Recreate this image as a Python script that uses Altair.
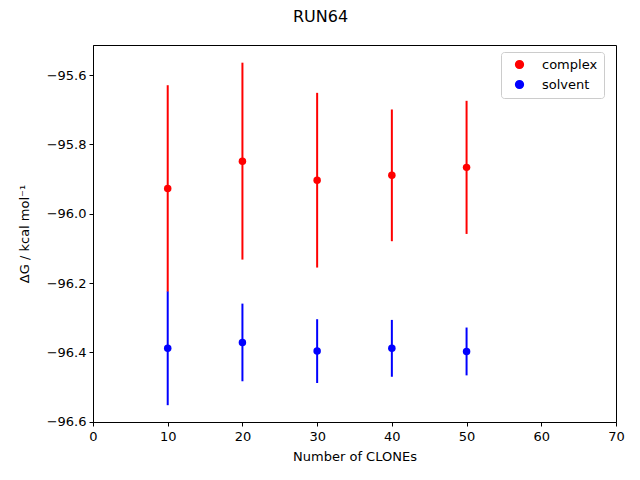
import altair as alt
import pandas as pd

clones = [10, 20, 30, 40, 50]
complex_dg = [-95.927, -95.848, -95.903, -95.889, -95.866]
complex_err = [0.298, 0.284, 0.252, 0.190, 0.192]
solvent_dg = [-96.388, -96.371, -96.396, -96.388, -96.397]
solvent_err = [0.164, 0.112, 0.092, 0.082, 0.069]

rows = []
for name, vals, errs in [("complex", complex_dg, complex_err), ("solvent", solvent_dg, solvent_err)]:
    for x, v, e in zip(clones, vals, errs):
        rows.append({"series": name, "x": x, "y": v, "lo": v - e, "hi": v + e})
df = pd.DataFrame(rows)

FONT = "DejaVu Sans"
xs = alt.Scale(domain=[0, 70], nice=False, zero=False)
ys = alt.Scale(domain=[-96.6005, -95.513], nice=False, zero=False)
color = alt.Color("series:N", scale=alt.Scale(domain=["complex", "solvent"], range=["red", "blue"]),
                  legend=alt.Legend(title=None, orient="none", legendX=408, legendY=7,
                                    symbolType="circle", symbolSize=60, labelFontSize=13,
                                    labelFont=FONT, labelColor="black",
                                    fillColor="white", strokeColor="#cccccc", cornerRadius=3,
                                    padding=6, rowPadding=5, symbolOffset=6, labelOffset=16))

xax = alt.Axis(values=[0, 10, 20, 30, 40, 50, 60, 70], grid=False, title="Number of CLONEs",
               labelFontSize=13, titleFontSize=13, labelFont=FONT, titleFont=FONT,
               labelColor="black", titleColor="black", titleFontWeight="normal",
               domainColor="black", tickColor="black", tickSize=4, labelPadding=4, titlePadding=7,
               labelFlush=False)
yax = alt.Axis(values=[-96.6, -96.4, -96.2, -96.0, -95.8, -95.6], format=".1f", grid=False,
               title="ΔG / kcal mol⁻¹", labelFontSize=13, titleFontSize=13, labelFont=FONT,
               titleFont=FONT, labelColor="black", titleColor="black", titleFontWeight="normal",
               domainColor="black", tickColor="black", tickSize=4, labelPadding=3, titlePadding=15,
               labelFlush=False)

base = alt.Chart(df)
bars = base.mark_rule(strokeWidth=2).encode(
    x=alt.X("x:Q", scale=xs, axis=xax),
    y=alt.Y("lo:Q", scale=ys, axis=yax),
    y2="hi:Q",
    color=color,
)
pts = base.mark_circle(size=56, opacity=1).encode(
    x=alt.X("x:Q", scale=xs),
    y=alt.Y("y:Q", scale=ys),
    color=color,
)

chart = alt.layer(bars, pts).properties(
    width=523, height=377,
    autosize=alt.AutoSizeParams(type="none"),
    padding={"left": 85, "top": 37, "right": 10, "bottom": 50},
    title=alt.TitleParams("RUN64", fontSize=16, font=FONT, fontWeight="normal", color="black",
                          anchor="middle", dx=-34, offset=20),
).configure_view(stroke="black", strokeWidth=1)

chart.save("out.html", embed_options={"renderer": "svg", "actions": False})
